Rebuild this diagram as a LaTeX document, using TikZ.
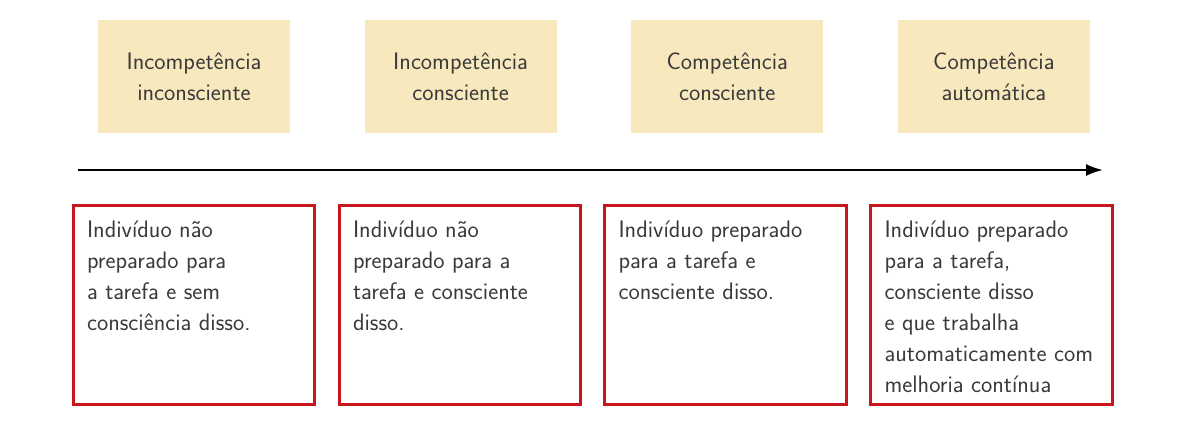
\documentclass[tikz,border=0pt]{standalone}
\usepackage{fontspec}
\usetikzlibrary{positioning,arrows.meta}
\definecolor{stagefill}{HTML}{F7E8BD}
\definecolor{boxred}{HTML}{C8161D}
\definecolor{txtgray}{HTML}{3A3A3A}
\begin{document}
\begin{tikzpicture}[
  x=0.025cm, y=-0.025cm,
  stage/.style={fill=stagefill, minimum width=4.8cm, minimum height=2.825cm, align=center, text=txtgray, font=\sffamily\fontsize{17}{22}\selectfont},
  panel/.style={draw=boxred, line width=2pt, minimum width=6.03cm, minimum height=4.98cm},
  desc/.style={align=left, inner sep=0pt, text=txtgray, font=\sffamily\fontsize{17}{22}\selectfont},
  arrow/.style={-{Latex[length=12pt, width=8.5pt]}, line width=1.6pt}
]
\useasboundingbox (0,0) rectangle (1178,430);

\node[stage] (t1) at (194,76.5) {Incompetência\\inconsciente};
\node[stage, right=1.85cm of t1] (t2) {Incompetência\\consciente};
\node[stage, right=1.85cm of t2] (t3) {Competência\\consciente};
\node[stage, right=1.85cm of t3] (t4) {Competência\\automática};

\coordinate (a0) at (78,170);
\coordinate (a1) at (1103,170);
\draw[arrow] (a0) -- (a1);

\node[panel] (p1) at (194,305) {};
\node[panel] (p2) at (460,305) {};
\node[panel] (p3) at (725.5,305) {};
\node[panel] (p4) at (991.5,305) {};

\node[desc, below right=0.42cm and 0.37cm of p1.north west] (d1) {Indivíduo não\\preparado para\\a tarefa e sem\\consciência disso.};
\node[desc, below right=0.42cm and 0.37cm of p2.north west] (d2) {Indivíduo não\\preparado para a\\tarefa e consciente\\disso.};
\node[desc, below right=0.42cm and 0.37cm of p3.north west] (d3) {Indivíduo preparado\\para a tarefa e\\consciente disso.};
\node[desc, below right=0.42cm and 0.37cm of p4.north west] (d4) {Indivíduo preparado\\para a tarefa,\\consciente disso\\e que trabalha\\automaticamente com\\melhoria contínua};
\end{tikzpicture}
\end{document}
